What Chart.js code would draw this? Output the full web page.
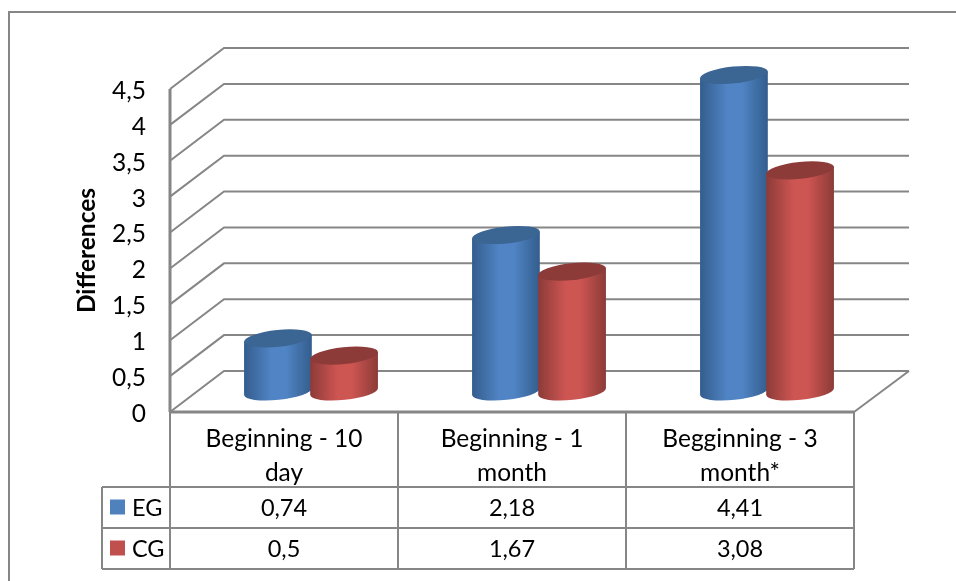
<!DOCTYPE html>
<html>
<head>
<meta charset="utf-8">
<title>Differences</title>
<script src="https://cdn.jsdelivr.net/npm/chart.js@4"></script>
<style>
    html, body { margin: 0; padding: 0; background: #fff; }
    #chart { display: block; }
</style>
</head>
<body>
<canvas id="chart" width="956" height="581"></canvas>
<script>
const categories = [['Beginning - 10', 'day'], ['Beginning - 1', 'month'], ['Begginning - 3', 'month*']];
const seriesNames = ['EG', 'CG'];
const egValues = [0.74, 2.18, 4.41];
const cgValues = [0.5, 1.67, 3.08];
const egLabels = ['0,74', '2,18', '4,41'];
const cgLabels = ['0,5', '1,67', '3,08'];

const FONT = 'Lato, "Open Sans", sans-serif';
const LINE = '#868686';
const DEPTH_X = 54;
const DEPTH_Y = 41;

const palette = [
    {key: '#4f81bd', edge: '#335d8d', mid: '#5084c4', top: '#3b6593'},
    {key: '#c0504d', edge: '#8c3b38', mid: '#cd5552', top: '#8d3b39'}
];

function strokePath(ctx, points, width) {
    ctx.beginPath();
    points.forEach((p, i) => i ? ctx.lineTo(p[0], p[1]) : ctx.moveTo(p[0], p[1]));
    ctx.lineWidth = width;
    ctx.strokeStyle = LINE;
    ctx.stroke();
}

// walls and floor behind the cylinders
const wallsPlugin = {
    id: 'walls',
    beforeDatasetsDraw(chart) {
        const {ctx, chartArea: area, scales: {y}} = chart;
        ctx.save();
        y.ticks.forEach(t => {
            const py = y.getPixelForValue(t.value);
            strokePath(ctx, [[area.left, py], [area.left + DEPTH_X, py - DEPTH_Y], [area.right + DEPTH_X + 1, py - DEPTH_Y]], 2);
        });
        strokePath(ctx, [[area.left, area.top], [area.left, area.bottom]], 3);
        strokePath(ctx, [[area.right, area.bottom], [area.right + DEPTH_X + 1, area.bottom - DEPTH_Y]], 2);
        ctx.restore();
    }
};

function drawCylinder(ctx, bar, colors) {
    const cx = bar.x + DEPTH_X / 2;
    const topY = bar.y - DEPTH_Y / 2;
    const baseY = bar.base - DEPTH_Y / 2;
    const rot = -0.105;
    const a = bar.width / 2 + 1;
    const b = 8.4;
    const dx = a * Math.cos(rot);
    const dy = a * Math.sin(rot);

    const grad = ctx.createLinearGradient(cx - dx, 0, cx + dx, 0);
    grad.addColorStop(0, colors.edge);
    grad.addColorStop(0.4, colors.mid);
    grad.addColorStop(0.62, colors.mid);
    grad.addColorStop(1, colors.edge);

    ctx.beginPath();
    ctx.moveTo(cx - dx, topY - dy);
    ctx.lineTo(cx - dx, baseY - dy);
    ctx.ellipse(cx, baseY, a, b, rot, Math.PI, 0, true);
    ctx.lineTo(cx + dx, topY + dy);
    ctx.closePath();
    ctx.fillStyle = grad;
    ctx.fill();

    ctx.beginPath();
    ctx.ellipse(cx, topY, a, b, rot, 0, Math.PI * 2);
    ctx.fillStyle = colors.top;
    ctx.fill();
}

const cylindersPlugin = {
    id: 'cylinders',
    afterDatasetsDraw(chart) {
        const {ctx} = chart;
        ctx.save();
        categories.forEach((c, i) => {
            seriesNames.forEach((s, d) => {
                drawCylinder(ctx, chart.getDatasetMeta(d).data[i], palette[d]);
            });
        });
        ctx.restore();
    }
};

// data table under the plot: grid, legend keys and values
const tablePlugin = {
    id: 'dataTable',
    afterDraw(chart) {
        const {ctx, chartArea: area, scales: {x}} = chart;
        const rowTop = 487;
        const rowH = 41;
        const keyLeft = 102;
        const step = (area.right - area.left) / categories.length;
        ctx.save();

        strokePath(ctx, [[area.left, area.bottom], [area.right, area.bottom]], 3);
        for (let i = 0; i <= categories.length; i++) {
            const px = area.left + step * i;
            strokePath(ctx, [[px, area.bottom], [px, rowTop + rowH * 2]], 2);
        }
        [0, 1, 2].forEach(r => strokePath(ctx, [[keyLeft, rowTop + rowH * r], [area.right, rowTop + rowH * r]], 2));
        strokePath(ctx, [[keyLeft, rowTop], [keyLeft, rowTop + rowH * 2]], 2);

        ctx.font = '23.5px ' + FONT;
        ctx.textBaseline = 'middle';
        [egLabels, cgLabels].forEach((labels, r) => {
            const cy = rowTop + rowH * r + rowH / 2 + 1;
            ctx.fillStyle = palette[r].key;
            ctx.fillRect(keyLeft + 8, cy - 9, 15, 15);
            ctx.fillStyle = '#000';
            ctx.textAlign = 'left';
            ctx.fillText(seriesNames[r], keyLeft + 30, cy);
            ctx.textAlign = 'center';
            labels.forEach((label, i) => ctx.fillText(label, x.getPixelForTick(i), cy));
        });

        // outer frame of the chart
        strokePath(ctx, [[9, 581], [9, 12], [956, 12]], 2);
        ctx.restore();
    }
};

new Chart(document.getElementById('chart'), {
    type: 'bar',
    data: {
        labels: categories,
        datasets: [
            {label: seriesNames[0], data: egValues, backgroundColor: 'transparent'},
            {label: seriesNames[1], data: cgValues, backgroundColor: 'transparent'}
        ]
    },
    options: {
        responsive: false,
        animation: false,
        categoryPercentage: 0.58,
        barPercentage: 1,
        layout: {padding: {left: 72, right: 102, top: 89, bottom: 0}},
        plugins: {legend: {display: false}, tooltip: {enabled: false}},
        scales: {
            x: {
                grid: {display: false},
                border: {display: false},
                afterFit: scale => { scale.height = 169; },
                ticks: {
                    maxRotation: 0,
                    autoSkip: false,
                    color: '#000',
                    padding: 2,
                    font: {family: FONT, size: 24.5, lineHeight: 1.39}
                }
            },
            y: {
                min: 0,
                max: 4.5,
                grid: {display: false},
                border: {display: false},
                afterFit: scale => { scale.width = 98; },
                title: {
                    display: true,
                    text: 'Differences',
                    color: '#000',
                    font: {family: FONT, size: 24.5, weight: 'bold'},
                    padding: 0
                },
                ticks: {
                    stepSize: 0.5,
                    color: '#000',
                    padding: 16,
                    labelOffset: 2,
                    font: {family: FONT, size: 24.5},
                    callback: v => String(v).replace('.', ',')
                }
            }
        }
    },
    plugins: [wallsPlugin, cylindersPlugin, tablePlugin]
});
</script>
</body>
</html>
